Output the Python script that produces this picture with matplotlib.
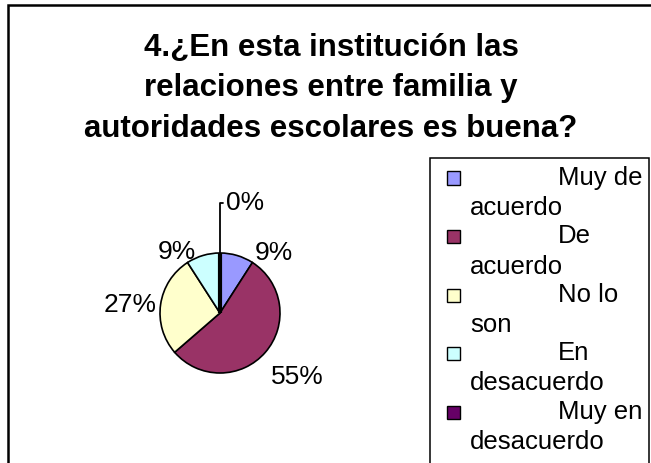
import matplotlib.pyplot as plt
import numpy as np
from matplotlib.patches import Rectangle

# datos de la encuesta (pregunta 4)
categorias = ["Muy de acuerdo", "De acuerdo", "No lo son", "En desacuerdo", "Muy en desacuerdo"]
respuestas = [1, 6, 3, 1, 0]
colores = ["#9999FF", "#993366", "#FFFFCC", "#CCFFFF", "#660066"]
titulo = "4.¿En esta institución las\nrelaciones entre familia y\nautoridades escolares es buena?"

W, H = 651, 463
plt.rcParams["font.family"] = ["Liberation Sans", "DejaVu Sans"]


def fx(px):
    return px / W


def fy(py):
    return 1 - py / H


fig = plt.figure(figsize=(W / 100, H / 100), dpi=100)

# marco exterior
fig.add_artist(Rectangle((fx(8), fy(700)), fx(800), fy(5) - fy(700), transform=fig.transFigure,
                         fill=False, edgecolor="black", linewidth=1.8))

fig.text(fx(331), fy(33), titulo, ha="center", va="top", fontsize=22.5, fontweight="bold",
         linespacing=1.45)

# torta: centro (220, 313) px, radio 60 px
ax = fig.add_axes([fx(70), fy(463), 300 / W, 300 / H])
wedges, _ = ax.pie(respuestas, colors=colores, startangle=90, counterclock=False,
                   wedgeprops=dict(edgecolor="black", linewidth=1.2))
wedges[-1].set_linewidth(3)
ax.set_xlim(-2.5, 2.5)
ax.set_ylim(-2.5, 2.5)
ax.set_aspect("equal")
ax.axis("off")

total = sum(respuestas)
pct = [f"{round(100 * v / total)}%" for v in respuestas]

# posiciones de las etiquetas (radio, angulo en grados)
pos_etq = [(1.35, 48), (1.68, -39.5), (1.5, 175), (1.25, 125.5)]
for txt, (r, a) in zip(pct[:4], pos_etq):
    t = np.deg2rad(a)
    ax.text(r * np.cos(t), r * np.sin(t), txt, ha="center", va="center", fontsize=19)

# etiqueta del 0% con linea guia
tope = np.deg2rad(wedges[-1].theta1)
ax.annotate(pct[4], xy=(np.cos(tope), np.sin(tope)), xytext=(0.1, 1.83),
            ha="left", va="center", fontsize=19,
            arrowprops=dict(arrowstyle="-", color="black", lw=1.3, shrinkA=0, shrinkB=0,
                            connectionstyle="angle,angleA=0,angleB=90"))

# leyenda
fig.add_artist(Rectangle((fx(430), fy(700)), fx(649) - fx(430), fy(158) - fy(700),
                         transform=fig.transFigure, fill=False, edgecolor="black", linewidth=1.1))
for i, (cat, col) in enumerate(zip(categorias, colores)):
    yc = 178 + i * 58.5
    fig.add_artist(Rectangle((fx(447), fy(yc + 6.5)), 13 / W, 13 / H, transform=fig.transFigure,
                             facecolor=col, edgecolor="black", linewidth=1.0))
    l1, l2 = cat.rsplit(" ", 1)
    fig.text(fx(558), fy(yc), l1, ha="left", va="center", fontsize=18.5)
    fig.text(fx(470), fy(yc + 30), l2, ha="left", va="center", fontsize=18.5)

fig.savefig("out.png", dpi=100)
